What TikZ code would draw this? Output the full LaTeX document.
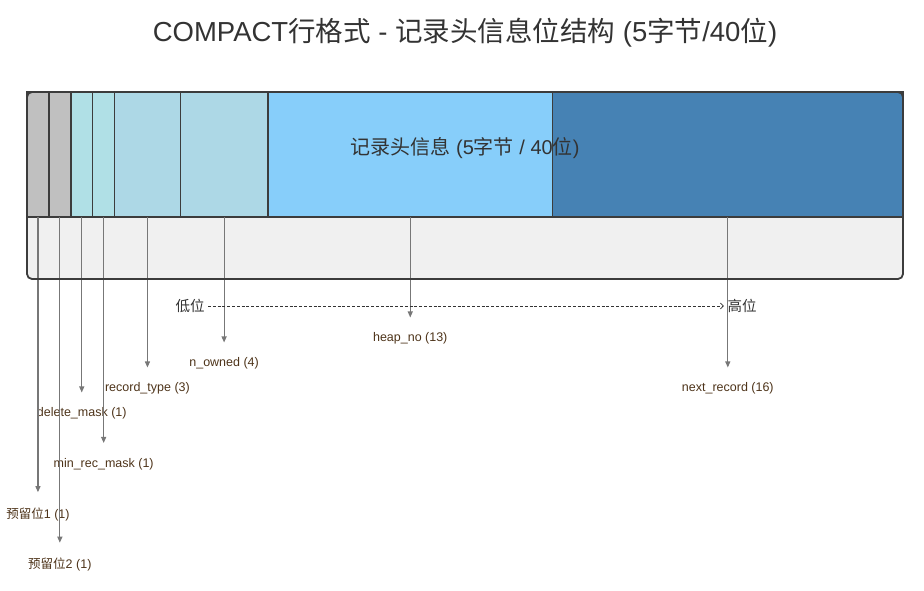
\documentclass[tikz,border=0pt]{standalone}
\usepackage{fontspec}
\setmainfont{Liberation Sans}
\newfontfamily\cjk{Noto Sans CJK SC}
\usetikzlibrary{arrows.meta}
\definecolor{framecol}{HTML}{3C3C3C}
\definecolor{bottomfill}{HTML}{F0F0F0}
\definecolor{reserved}{HTML}{C0C0C0}
\definecolor{maskcol}{HTML}{B0E0E6}
\definecolor{typecol}{HTML}{ADD8E6}
\definecolor{heapcol}{HTML}{87CEFA}
\definecolor{nextcol}{HTML}{4682B4}
\definecolor{textcol}{HTML}{333333}
\definecolor{labcol}{HTML}{4D3319}
\definecolor{linecol}{HTML}{777777}
\tikzset{
  seg/.style={draw=framecol,line width=1.5pt,minimum height=125pt,inner sep=0pt,outer sep=0pt,anchor=north west},
  fieldlabel/.style={text=labcol,inner sep=0pt,font=\fontsize{12.5}{14}\selectfont},
  bitarrow/.style={draw=linecol,line width=1.1pt,-{Triangle[length=6pt,width=5pt]},shorten >=15pt}
}
\begin{document}
\begin{tikzpicture}[x=1pt,y=-1pt]
      \useasboundingbox (0,0) rectangle (924,591);
      \node[text=textcol,font=\fontsize{27.5}{32}\selectfont] (title) at (465,33)
        {COMPACT{\cjk 行格式} - {\cjk 记录头信息位结构} (5{\cjk 字节}/40{\cjk 位})};
      \fill[bottomfill,rounded corners=5pt] (27,92) rectangle (903,279);
      \draw
        (27,92) node[seg,fill=reserved,minimum width=21.9pt] (rsv1){}
        (48.9,92) node[seg,fill=reserved,minimum width=21.9pt] (rsv2){}
        (70.8,92) node[seg,fill=maskcol,minimum width=21.9pt] (delmask){}
        (92.7,92) node[seg,fill=maskcol,minimum width=21.9pt] (minrec){}
        (114.6,92) node[seg,fill=typecol,minimum width=65.7pt] (rectype){}
        (180.3,92) node[seg,fill=typecol,minimum width=87.6pt] (nowned){}
        (267.9,92) node[seg,fill=heapcol,minimum width=284.7pt] (heapno){}
        (552.6,92) node[seg,fill=nextcol,minimum width=350.4pt] (nextrec){};
      \node[text=textcol,font=\fontsize{20}{24}\selectfont] (hdr) at (465,148.5)
        {{\cjk 记录头信息} (5{\cjk 字节} / 40{\cjk 位})};
      \draw
        (37.95,514) node[fieldlabel] (lrsv1){{\cjk 预留位}1 (1)}
        (59.85,564.5) node[fieldlabel] (lrsv2){{\cjk 预留位}2 (1)}
        (81.75,413.5) node[fieldlabel] (ldelmask){delete\_mask (1)}
        (103.65,464) node[fieldlabel] (lminrec){min\_rec\_mask (1)}
        (147.45,388.5) node[fieldlabel] (lrectype){record\_type (3)}
        (224.1,363.5) node[fieldlabel] (lnowned){n\_owned (4)}
        (410.25,338.5) node[fieldlabel] (lheapno){heap\_no (13)}
        (727.8,388.5) node[fieldlabel] (lnextrec){next\_record (16)};
      \begin{scope}[bitarrow]
        \draw (rsv1.south) to (rsv1.south |- lrsv1.north);
        \draw (rsv2.south) to (rsv2.south |- lrsv2.north);
        \draw (delmask.south) to (delmask.south |- ldelmask.north);
        \draw (minrec.south) to (minrec.south |- lminrec.north);
        \draw (rectype.south) to (rectype.south |- lrectype.north);
        \draw (nowned.south) to (nowned.south |- lnowned.north);
        \draw (heapno.south) to (heapno.south |- lheapno.north);
        \draw (nextrec.south) to (nextrec.south |- lnextrec.north);
      \end{scope}
      \draw[framecol,line width=1.8pt,rounded corners=5pt] (27,92) rectangle (903,279);
      \node[text=textcol,font=\fontsize{14.5}{17}\cjk] (low) at (190,306) {低位};
      \node[text=textcol,font=\fontsize{14.5}{17}\cjk] (high) at (742,306) {高位};
      \draw[textcol,line width=0.7pt,dash pattern=on 3pt off 1.8pt,-{Straight Barb[length=3pt,width=6pt]}] (low) -- (high);
\end{tikzpicture}
\end{document}
